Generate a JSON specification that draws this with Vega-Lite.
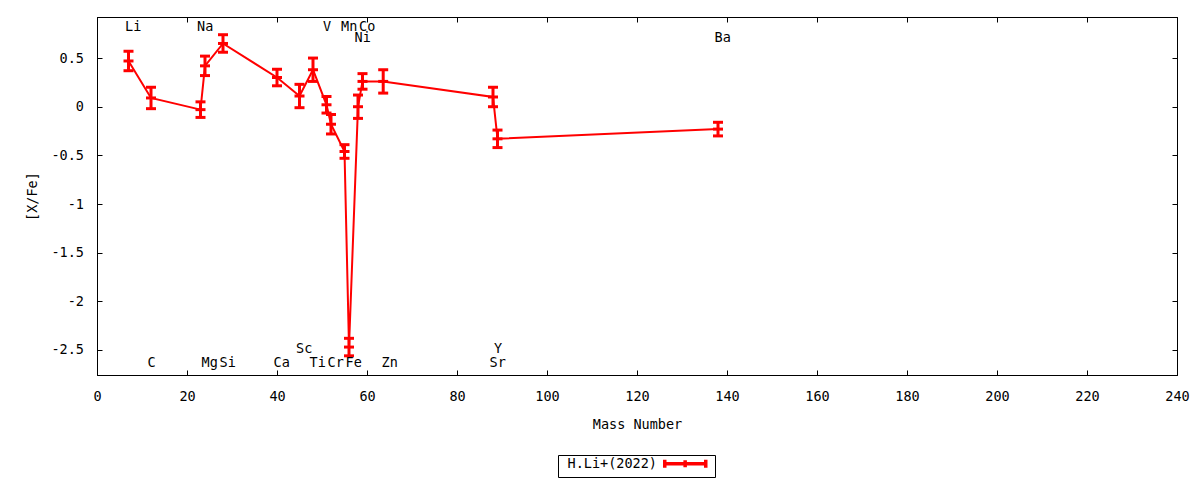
{
  "$schema": "https://vega.github.io/schema/vega-lite/v6.json",
  "width": 1080,
  "height": 358,
  "autosize": {"type": "none"},
  "padding": {"left": 97, "top": 17, "right": 23, "bottom": 105},
  "background": "white",
  "datasets": {
    "pts": [
      {"el": "Li", "mass": 7, "val": 0.47, "err": 0.1},
      {"el": "C", "mass": 12, "val": 0.09, "err": 0.11},
      {"el": "Na", "mass": 23, "val": -0.03, "err": 0.08},
      {"el": "Mg", "mass": 24, "val": 0.42, "err": 0.1},
      {"el": "Si", "mass": 28, "val": 0.65, "err": 0.09},
      {"el": "Ca", "mass": 40, "val": 0.3, "err": 0.085},
      {"el": "Sc", "mass": 45, "val": 0.11, "err": 0.12},
      {"el": "Ti", "mass": 48, "val": 0.38, "err": 0.12},
      {"el": "V", "mass": 51, "val": 0.02, "err": 0.085},
      {"el": "Cr", "mass": 52, "val": -0.18, "err": 0.1},
      {"el": "Mn", "mass": 55, "val": -0.46, "err": 0.07},
      {"el": "Fe", "mass": 56, "val": -2.47, "err": 0.09},
      {"el": "Ni", "mass": 58, "val": 0.0, "err": 0.12},
      {"el": "Co", "mass": 59, "val": 0.26, "err": 0.08},
      {"el": "Zn", "mass": 63.6, "val": 0.26, "err": 0.12},
      {"el": "Sr", "mass": 88, "val": 0.1, "err": 0.1},
      {"el": "Y", "mass": 89, "val": -0.33, "err": 0.09},
      {"el": "Ba", "mass": 138, "val": -0.23, "err": 0.07}
    ],
    "lbl": [
      {"el": "Li", "lx": 7, "ly": 0.82},
      {"el": "Na", "lx": 23, "ly": 0.82},
      {"el": "V", "lx": 51, "ly": 0.82},
      {"el": "Mn", "lx": 55, "ly": 0.82},
      {"el": "Co", "lx": 59, "ly": 0.82},
      {"el": "Ni", "lx": 58, "ly": 0.71},
      {"el": "Ba", "lx": 138, "ly": 0.71},
      {"el": "C", "lx": 12, "ly": -2.635},
      {"el": "Mg", "lx": 24, "ly": -2.635},
      {"el": "Si", "lx": 28, "ly": -2.635},
      {"el": "Ca", "lx": 40, "ly": -2.635},
      {"el": "Ti", "lx": 48, "ly": -2.635},
      {"el": "Cr", "lx": 52, "ly": -2.635},
      {"el": "Fe", "lx": 56, "ly": -2.635},
      {"el": "Zn", "lx": 64, "ly": -2.635},
      {"el": "Sr", "lx": 88, "ly": -2.635},
      {"el": "Sc", "lx": 45, "ly": -2.49},
      {"el": "Y", "lx": 89, "ly": -2.49}
    ]
  },
  "config": {
    "font": "DejaVu Sans Mono",
    "view": {"stroke": "black", "strokeWidth": 1},
    "axis": {
      "grid": false,
      "domainColor": "black",
      "domainWidth": 1,
      "tickColor": "black",
      "tickWidth": 1,
      "tickSize": -5,
      "labelColor": "black",
      "titleColor": "black",
      "labelFont": "DejaVu Sans Mono",
      "titleFont": "DejaVu Sans Mono",
      "labelFontSize": 13.5,
      "titleFontSize": 13.5,
      "titleFontWeight": "normal",
      "labelFlush": false,
      "labelOverlap": false
    }
  },
  "layer": [
    {
      "data": {"name": "pts"},
      "mark": {"type": "line", "strokeWidth": 2, "opacity": 1},
      "encoding": {
        "x": {
          "field": "mass",
          "type": "quantitative",
          "scale": {"domain": [0, 240], "nice": false},
          "axis": {
            "values": [0, 20, 40, 60, 80, 100, 120, 140, 160, 180, 200, 220, 240],
            "title": "Mass Number",
            "labelPadding": 19,
            "titleX": 540,
            "titleY": 49,
            "titleBaseline": "middle"
          }
        },
        "y": {
          "field": "val",
          "type": "quantitative",
          "scale": {"domain": [-2.757, 0.922], "nice": false, "zero": false},
          "axis": {
            "values": [-2.5, -2, -1.5, -1, -0.5, 0, 0.5],
            "labelExpr": "toString(datum.value)",
            "title": "[X/Fe]",
            "labelPadding": 18.5,
            "titleX": -65,
            "titleY": 179,
            "titleBaseline": "middle"
          }
        },
        "color": {
          "datum": "H.Li+(2022)",
          "type": "nominal",
          "scale": {"range": ["red"]},
          "legend": {
            "title": null,
            "orient": "none",
            "legendX": 461,
            "legendY": 438,
            "strokeColor": "black",
            "padding": 2,
            "symbolType": "M24.5,-1V1M24.5,0H34.75M34.75,-1V1M29.6,-0.9V0.9",
            "symbolSize": 64,
            "symbolStrokeWidth": 3.5,
            "symbolOpacity": 1,
            "labelOffset": -6,
            "labelFont": "DejaVu Sans Mono",
            "labelFontSize": 13.5,
            "labelColor": "black"
          }
        }
      }
    },
    {
      "data": {"name": "pts"},
      "mark": {
        "type": "errorbar",
        "ticks": {"size": 10, "thickness": 3, "opacity": 1},
        "rule": {"opacity": 1},
        "thickness": 3,
        "color": "red",
        "opacity": 1
      },
      "encoding": {
        "x": {"field": "mass", "type": "quantitative", "axis": null},
        "y": {"field": "val", "type": "quantitative", "axis": null},
        "yError": {"field": "err"}
      }
    },
    {
      "data": {"name": "pts"},
      "mark": {"type": "tick", "orient": "horizontal", "size": 10, "thickness": 3, "color": "red", "opacity": 1},
      "encoding": {
        "x": {"field": "mass", "type": "quantitative", "axis": null},
        "y": {"field": "val", "type": "quantitative", "axis": null}
      }
    },
    {
      "data": {"name": "lbl"},
      "mark": {"type": "text", "align": "left", "baseline": "middle", "dx": -3.5, "fontSize": 13.5, "color": "black"},
      "encoding": {
        "x": {"field": "lx", "type": "quantitative", "axis": null},
        "y": {"field": "ly", "type": "quantitative", "axis": null},
        "text": {"field": "el"}
      }
    },
    {
      "data": {"name": "pts"},
      "mark": {"type": "point", "opacity": 0},
      "encoding": {
        "x": {
          "field": "mass",
          "type": "quantitative",
          "axis": {
            "orient": "top",
            "labels": false,
            "title": null,
            "values": [0, 20, 40, 60, 80, 100, 120, 140, 160, 180, 200, 220, 240]
          }
        },
        "y": {
          "field": "val",
          "type": "quantitative",
          "axis": {
            "orient": "right",
            "labels": false,
            "title": null,
            "values": [-2.5, -2, -1.5, -1, -0.5, 0, 0.5]
          }
        }
      }
    }
  ],
  "resolve": {"axis": {"x": "independent", "y": "independent"}}
}
